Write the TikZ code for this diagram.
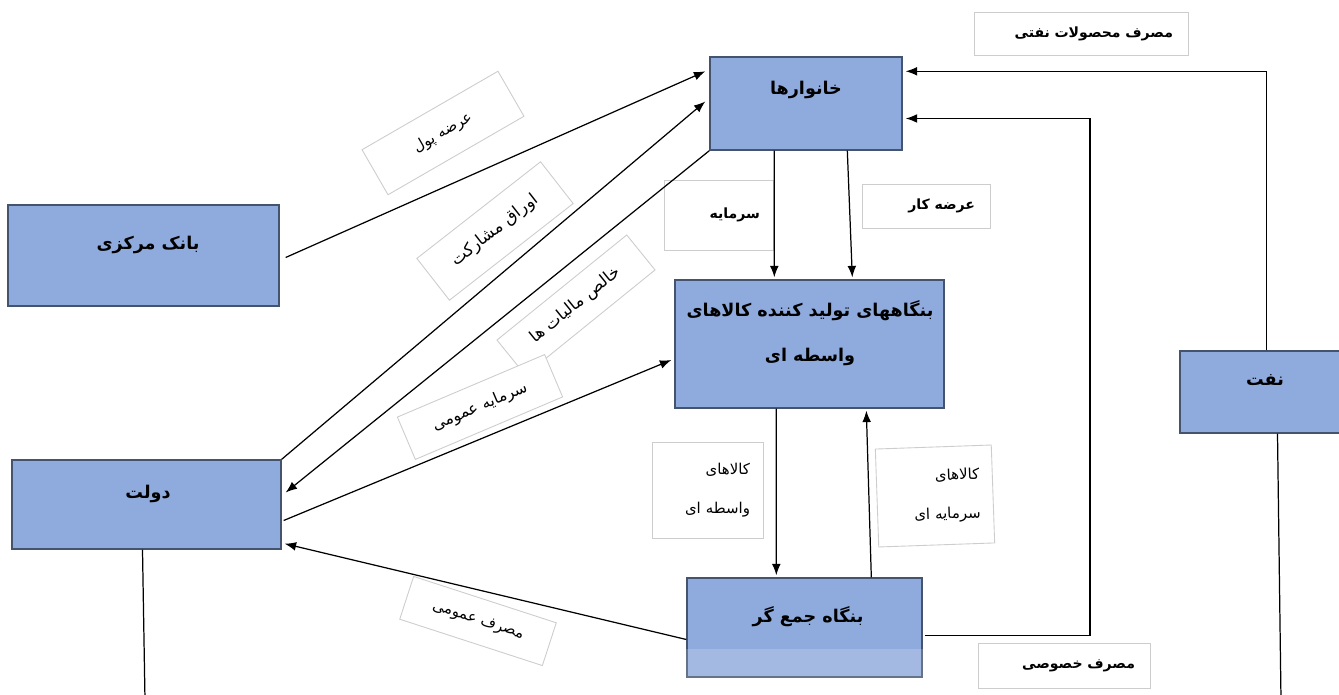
\documentclass[tikz,border=0pt]{standalone}
\usepackage{fontspec}
\usetikzlibrary{shapes,arrows.meta,calc}
\newfontfamily\arabicfont[Script=Arabic]{DejaVu Sans}
\TeXXeTstate=1
\newcommand{\fatext}[1]{\beginR #1\endR}
\definecolor{sectorblue}{RGB}{143,170,220}
\definecolor{sectorline}{RGB}{68,84,110}
\definecolor{labelline}{RGB}{205,205,205}

\begin{document}
\begin{tikzpicture}[x={(0.02cm,0)},y={(0,-0.02cm)},>={Latex[length=6.5pt,width=5pt]},
		sector/.style={draw=sectorline,line width=0.8pt,fill=sectorblue,inner sep=0pt},
		title/.style={font=\arabicfont\bfseries\fontsize{10}{26}\selectfont,align=center},
		flowbox/.style={draw=labelline,line width=0.5pt,fill=white,inner sep=0pt},
		flowtext/.style={font=\arabicfont\fontsize{8.5}{22}\selectfont},
		flowbold/.style={font=\arabicfont\bfseries\fontsize{8}{10}\selectfont},
		flow/.style={->,line width=0.7pt}]
			\useasboundingbox (0,0) rectangle (1339,695);
			\fill[white] (0,0) rectangle (1339,695);

			\node[sector,minimum width=3.84cm,minimum height=1.86cm] (hh) at (806,103.5) {};
			\node[sector,minimum width=5.42cm,minimum height=2.02cm] (cb) at (143.5,255.5) {};
			\node[sector,minimum width=5.38cm,minimum height=1.78cm] (gov) at (146.5,504.5) {};
			\node[sector,minimum width=5.38cm,minimum height=2.56cm] (firms) at (809.5,344) {};
			\node[sector,minimum width=4.7cm,minimum height=1.98cm] (agg) at (804.5,627.5) {};
			\node[sector,minimum width=3.3cm,minimum height=1.64cm] (oil) at (1262.5,392) {};
			\fill[white,opacity=0.18] ($(agg.south west)+(0,-29)$) rectangle (agg.south east);

			\node[title] (hhtext) at (806,90) {\fatext{خانوارها}};
			\node[title] (cbtext) at (148,245) {\fatext{بانک مرکزی}};
			\node[title] (govtext) at (148,494) {\fatext{دولت}};
			\node[title] (firmstext) at (810,333) {\fatext{بنگاههای تولید کننده کالاهای}\\\fatext{واسطه ای}};
			\node[title] (aggtext) at (808,617) {\fatext{بنگاه جمع گر}};
			\node[title] (oiltext) at (1265,380) {\fatext{نفت}};

			\node[flowbox,flowtext,rotate=30,minimum width=3.14cm,minimum height=1.04cm] (money) at (443,133) {\fatext{عرضه پول}};
			\node[flowbox,flowtext,font=\arabicfont\fontsize{9.5}{11}\selectfont,rotate=38,minimum width=3.14cm,minimum height=1.06cm] (bonds) at (495,231) {\fatext{اوراق مشارکت}};
			\node[flowbox,flowtext,font=\arabicfont\fontsize{9.5}{11}\selectfont,rotate=39,minimum width=3.34cm,minimum height=0.9cm] (tax) at (576,305) {\fatext{خالص مالیات ها}};
			\node[flowbox,flowtext,font=\arabicfont\fontsize{9}{11}\selectfont,rotate=23,minimum width=3.2cm,minimum height=0.92cm] (pubcap) at (480,407) {\fatext{سرمایه عمومی}};
			\node[flowbox,flowtext,rotate=-18,minimum width=3cm,minimum height=0.9cm] (pubcons) at (478,621) {\fatext{مصرف عمومی}};
			\node[flowbox,flowbold,minimum width=2.18cm,minimum height=1.4cm,text width=1.66cm,align=right] (cap) at (718.5,215) {\fatext{سرمایه}};
			\node[flowbox,flowbold,minimum width=2.56cm,minimum height=0.88cm,text width=1.96cm,align=right] (labour) at (926,206) {\fatext{عرضه کار}};
			\node[flowbox,flowtext,minimum width=2.22cm,minimum height=1.92cm,text width=1.7cm,align=right] (midgoods) at (707.5,490) {\fatext{کالاهای}\\\fatext{واسطه ای}};
			\node[flowbox,flowtext,rotate=2,minimum width=2.32cm,minimum height=1.96cm,text width=1.8cm,align=right] (capgoods) at (935,496) {\fatext{کالاهای}\\\fatext{سرمایه ای}};
			\node[flowbox,flowbold,minimum width=3.44cm,minimum height=0.9cm,text width=2.84cm,align=right] (privcons) at (1064,665.5) {\fatext{مصرف خصوصی}};
			\node[flowbox,flowbold,minimum width=4.28cm,minimum height=0.86cm,text width=3.68cm,align=right] (oilcons) at (1081,33.5) {\fatext{مصرف محصولات نفتی}};

			\draw[flow] ($(cb.east)+(6,2)$) -- ($(hh.north west)+(-4,15)$);
			\draw[flow] (gov.north east) -- ($(hh.west)+(-4,-2)$);
			\draw[flow] (hh.south west) -- ($(gov.east)+(4,-12)$);
			\draw[flow] ($(gov.east)+(2,16)$) -- ($(firms.west)+(-3,16)$);
			\draw[flow] ($(agg.west)+(0,12)$) -- ($(gov.south east)+(3,-6)$);
			\draw[flow] ($(hh.south west)+(65,0)$) -- ($(firms.north west)+(100,-2)$);
			\draw[flow] ($(hh.south west)+(138,0)$) -- ($(firms.north west)+(178,-2)$);
			\draw[flow] ($(firms.south west)+(102,0)$) -- ($(agg.north west)+(90,-2)$);
			\draw[flow] ($(agg.north west)+(185,0)$) -- ($(firms.south west)+(192,2)$);
			\coordinate (pcbend) at (1090,400);
			\draw[flow] ($(agg.east)+(2,8)$) -| (pcbend) |- ($(hh.east)+(3,15)$);
			\draw[flow] ($(oil.north)+(4,0)$) |- ($(hh.north east)+(3,15)$);
			\coordinate (oilend) at (1281,700);
			\draw[line width=0.7pt] ($(oil.south)+(15,0)$) -- (oilend);
			\coordinate (govend) at (145,700);
			\draw[line width=0.7pt] ($(gov.south)+(-4,0)$) -- (govend);
		\end{tikzpicture}
\end{document}
